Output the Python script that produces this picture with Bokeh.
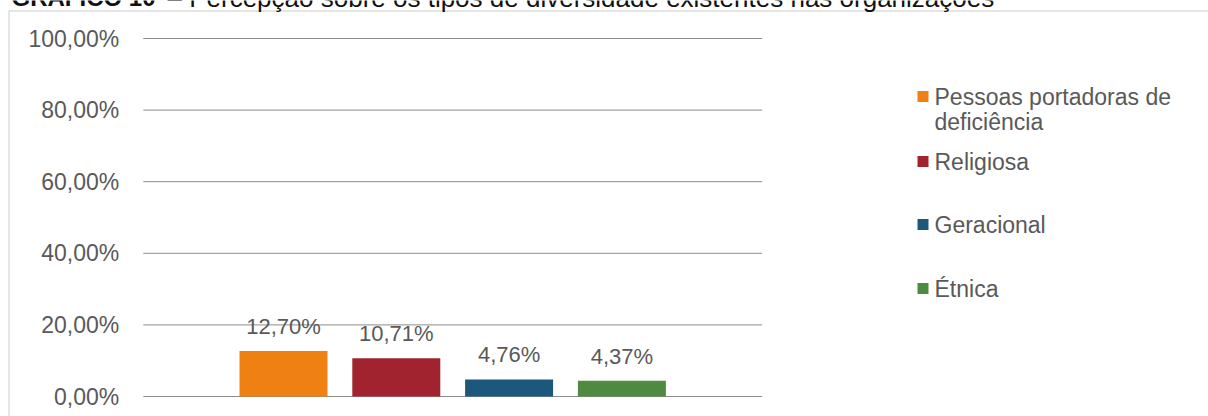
from bokeh.plotting import figure
from bokeh.models import (ColumnDataSource, Range1d, LabelSet, Label, BoxAnnotation)
from bokeh.core.properties import value
from bokeh.embed import file_html
from bokeh.resources import INLINE

# ---------------- data ----------------
series = ["Pessoas portadoras de deficiência", "Religiosa", "Geracional", "Étnica"]
legend_lines = [["Pessoas portadoras de", "deficiência"], ["Religiosa"], ["Geracional"], ["Étnica"]]
values = [12.70, 10.71, 4.76, 4.37]
value_labels = ["12,70%", "10,71%", "4,76%", "4,37%"]
colors = ["#EF8112", "#A1232F", "#1C587C", "#4E8A3F"]
y_ticks = [0, 20, 40, 60, 80, 100]
y_tick_labels = ["0,00%", "20,00%", "40,00%", "60,00%", "80,00%", "100,00%"]
title_bold = "GRÁFICO 10"
title_rest = "– Percepção sobre os tipos de diversidade existentes nas organizações"

# ---------------- layout ----------------
W, H = 1208, 416
FONT = "Liberation Sans"
TXT = "#595959"
# plot-area extent in category units (half a slot + gap either side)
PAD = 0.5 + 0.743
AREA_L = -PAD
AREA_R = (len(series) - 1) + PAD
# scale settings: one category slot = 112.8 px, first slot centre at 283 px
SLOT = 112.8
X0 = 283.0
PXY = 3.58       # px per percentage point
Y0 = 396.0       # pixel row of 0 %

xpos = list(range(len(series)))

p = figure(width=W, height=H,
           x_range=Range1d(-X0 / SLOT, (W - X0) / SLOT),
           y_range=Range1d(-(H - Y0) / PXY, Y0 / PXY),
           output_backend="svg", toolbar_location=None, title=None,
           min_border=0, min_border_left=0, min_border_right=0,
           min_border_top=0, min_border_bottom=0)
p.outline_line_color = None
p.background_fill_color = "white"
p.border_fill_color = "white"
p.xaxis.visible = False
p.yaxis.visible = False
p.xgrid.visible = False
p.ygrid.visible = False

def sx(X):
    return X

def sy(Y):
    return H - Y

# border of the chart area (cut by the window on the right and bottom)
p.add_layout(BoxAnnotation(left=sx(8.5), right=sx(1240), top=sy(10.5), bottom=sy(440),
                           left_units="screen", right_units="screen",
                           top_units="screen", bottom_units="screen",
                           fill_alpha=0, line_color="#8f8f8f", line_width=1.5,
                           level="underlay"))

# gridlines
grid_src = ColumnDataSource(dict(y=y_ticks, lab=y_tick_labels,
                                 x0=[AREA_L] * len(y_ticks), x1=[AREA_R] * len(y_ticks)))
p.segment(x0="x0", x1="x1", y0="y", y1="y", source=grid_src,
          line_color="#8c8c8c", line_width=1)

# y tick labels
p.add_layout(LabelSet(x="x0", y="y", text="lab", source=grid_src,
                      text_align="right", text_baseline="middle", x_offset=-24,
                      text_font=value(FONT), text_font_size="23px",
                      text_color=TXT))

# bars
src = ColumnDataSource(dict(x=xpos, top=values, label=value_labels, color=colors))
p.vbar(x="x", top="top", width=0.78, fill_color="color", line_color=None, source=src)

p.add_layout(LabelSet(x="x", y="top", text="label", source=src,
                      text_align="center", text_baseline="alphabetic",
                      y_offset=17, text_font=value(FONT), text_font_size="22px",
                      text_color=TXT))

# ---------------- legend ----------------
marker_y = [96, 161, 224, 288]
line_h = 25
for lines, c, ym in zip(legend_lines, colors, marker_y):
    p.add_layout(BoxAnnotation(left=sx(917), right=sx(928),
                               top=sy(ym - 5.5), bottom=sy(ym + 5.5),
                               left_units="screen", right_units="screen",
                               top_units="screen", bottom_units="screen",
                               fill_color=c, fill_alpha=1, line_color=None))
    for k, t in enumerate(lines):
        p.add_layout(Label(x=sx(934), y=sy(ym + k * line_h), x_units="screen",
                           y_units="screen", text=t, text_align="left",
                           text_baseline="middle", text_font=FONT,
                           text_font_size="23px", text_color=TXT))

# ---------------- title (cut by the top edge, as in the source image) ----------------
TITLE_Y = -3
p.add_layout(Label(x=sx(11), y=sy(TITLE_Y), x_units="screen", y_units="screen",
                   text=title_bold, text_font=FONT, text_font_style="bold",
                   text_font_size="24px", text_baseline="alphabetic",
                   text_color="#111111"))
p.add_layout(Label(x=sx(167), y=sy(TITLE_Y), x_units="screen", y_units="screen",
                   text=title_rest, text_font=FONT,
                   text_font_size="26px", text_baseline="alphabetic",
                   text_color="#111111"))

open("out.html", "w").write(file_html(p, INLINE))
